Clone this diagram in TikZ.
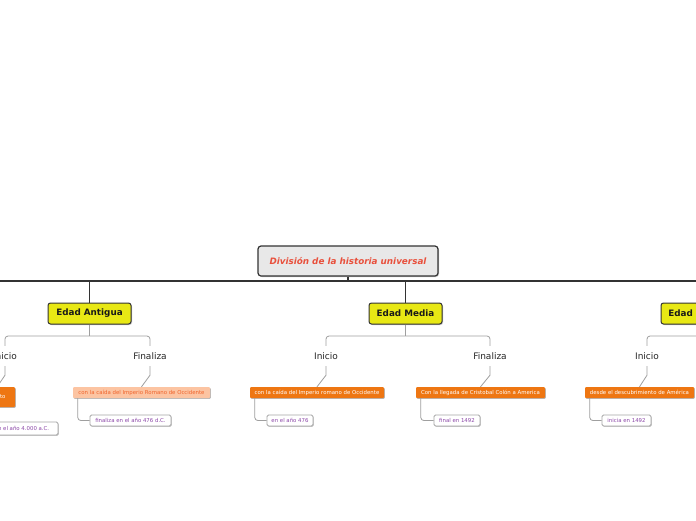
\documentclass[tikz,border=0pt]{standalone}
\usepackage{fontspec}
\setmainfont{DejaVu Sans}
\usetikzlibrary{shadows}
\definecolor{rootfill}{HTML}{E8E8E8}
\definecolor{roottxt}{HTML}{E8503C}
\definecolor{yel}{HTML}{E8E814}
\definecolor{orng}{HTML}{EE7612}
\definecolor{peach}{HTML}{FCC4A2}
\definecolor{peachtxt}{HTML}{F0642C}
\definecolor{purp}{HTML}{8C48A8}
\definecolor{dark}{HTML}{333333}
\tikzset{
  rootbox/.style={draw=dark, line width=1.2pt, fill=rootfill, rounded corners=3pt,
    minimum width=180pt, minimum height=30pt, inner sep=0pt, text=roottxt,
    font=\fontsize{8.8}{10}\selectfont\bfseries\itshape,
    general shadow={fill=gray!45, shadow xshift=1pt, shadow yshift=-1pt}},
  erabox/.style={draw=dark, line width=1pt, fill=yel, rounded corners=2.5pt,
    minimum height=21pt, inner sep=0pt, text=black!90,
    font=\fontsize{8.8}{10}\selectfont\bfseries,
    general shadow={fill=gray!45, shadow xshift=1pt, shadow yshift=-1pt}},
  lbl/.style={inner sep=0pt, minimum height=20pt, text=black!85, font=\fontsize{9}{10}\selectfont},
  obox/.style={fill=orng, text=white, inner sep=0pt, minimum height=11pt, rounded corners=1pt,
    font=\fontsize{5.4}{6}\selectfont,
    general shadow={fill=gray!55, shadow xshift=0.8pt, shadow yshift=-0.8pt}},
  pbox/.style={obox, fill=peach, text=peachtxt},
  wbox/.style={draw=gray!70, line width=0.8pt, fill=white, rounded corners=1.5pt, text=purp,
    inner sep=0pt, minimum height=11pt, font=\fontsize{5.4}{6}\selectfont,
    general shadow={fill=gray!45, shadow xshift=0.8pt, shadow yshift=-0.8pt}},
  branch/.style={draw=gray!75, line width=0.8pt, rounded corners=3pt},
  diag/.style={draw=gray!75, line width=0.8pt},
  bar/.style={draw=dark, line width=1.3pt}
}
\begin{document}
\begin{tikzpicture}[x=1pt,y=-1pt]
\useasboundingbox (0,0) rectangle (696,520);
\clip (0,0) rectangle (696,520);
\fill[white] (0,0) rectangle (696,520);

% root and eras
\node[rootbox] (root) at (348,261) {División de la historia universal};
\node[erabox, minimum width=83pt] (antigua) at (89.5,313.5) {Edad Antigua};
\node[erabox, minimum width=73pt] (media) at (405.5,313.5) {Edad Media};
\node[erabox, minimum width=86pt] (moderna) at (704,313.5) {Edad Moderna};

\coordinate (barL) at (-10,281);
\coordinate (barR) at (710,281);
\draw[bar] (barL) -- (barR);
\draw[bar] (root.south) -- (root.south |- barL);
\draw[bar] (antigua.north |- barL) -- (antigua.north);
\draw[bar] (media.north |- barL) -- (media.north);
\draw[bar] (moderna.north |- barL) -- (moderna.north);

% labels
\node[lbl] (aIni) at (5,356) {Inicio};
\node[lbl] (aFin) at (150,356) {Finaliza};
\node[lbl] (mIni) at (326,356) {Inicio};
\node[lbl] (mFin) at (490,356) {Finaliza};
\node[lbl] (moIni) at (647,356) {Inicio};

% junctions
\coordinate (aJ) at (89.5,336);
\coordinate (mJ) at (405.5,336);
\coordinate (moJ) at (704,336);
\coordinate (moR) at (760,336);
\draw[branch] (antigua.south) -- (aJ);
\draw[branch] (media.south) -- (mJ);
\draw[branch] (moderna.south) -- (moJ);
\draw[branch] (aIni.north) |- (aJ) -| (aFin.north);
\draw[branch] (mIni.north) |- (mJ) -| (mFin.north);
\draw[branch] (moIni.north) |- (moJ) -- (moR);

% orange boxes
\node[obox, minimum width=130pt, minimum height=20pt] (aIniBox) at (-50,397) {con la aparición de la escritura en Egipto};
\node[pbox, minimum width=137pt] (aFinBox) at (141.5,392.5) {con la caída del Imperio Romano de Occidente};
\node[obox, minimum width=134pt] (mIniBox) at (317,392.5) {con la caída del Imperio romano de Occidente};
\node[obox, minimum width=129pt] (mFinBox) at (480.5,392.5) {Con la llegada de Cristobal Colón a America};
\node[obox, minimum width=109pt] (moIniBox) at (639.5,392.5) {desde el descubrimiento de América};

\coordinate (aIniDiag) at (-3,387);
\draw[diag] (aIni.south) -- ++(0,9) -- (aIniDiag);
\draw[diag] (aFin.south) -- ++(0,9) -- (aFinBox.north);
\draw[diag] (mIni.south) -- ++(0,9) -- (mIniBox.north);
\draw[diag] (mFin.south) -- ++(0,9) -- (mFinBox.north);
\draw[diag] (moIni.south) -- ++(0,9) -- (moIniBox.north);

% white boxes
\node[wbox, minimum width=88pt, minimum height=13pt] (aIniKid) at (14,428.5) {inicia en el año 4.000 a.C.};
\node[wbox, minimum width=81pt] (aFinKid) at (130.5,420.5) {finaliza en el año 476 d.C.};
\node[wbox, minimum width=46pt] (mIniKid) at (290,420.5) {en el año 476};
\node[wbox, minimum width=46pt] (mFinKid) at (457,420.5) {final en 1492};
\node[wbox, minimum width=49pt] (moIniKid) at (626.5,420.5) {inicia en 1492};

\draw[branch] ([xshift=5pt]aIniBox.south west) |- (aIniKid.west);
\draw[branch] ([xshift=5pt]aFinBox.south west) |- (aFinKid.west);
\draw[branch] ([xshift=5pt]mIniBox.south west) |- (mIniKid.west);
\draw[branch] ([xshift=5pt]mFinBox.south west) |- (mFinKid.west);
\draw[branch] ([xshift=5pt]moIniBox.south west) |- (moIniKid.west);
\end{tikzpicture}
\end{document}
